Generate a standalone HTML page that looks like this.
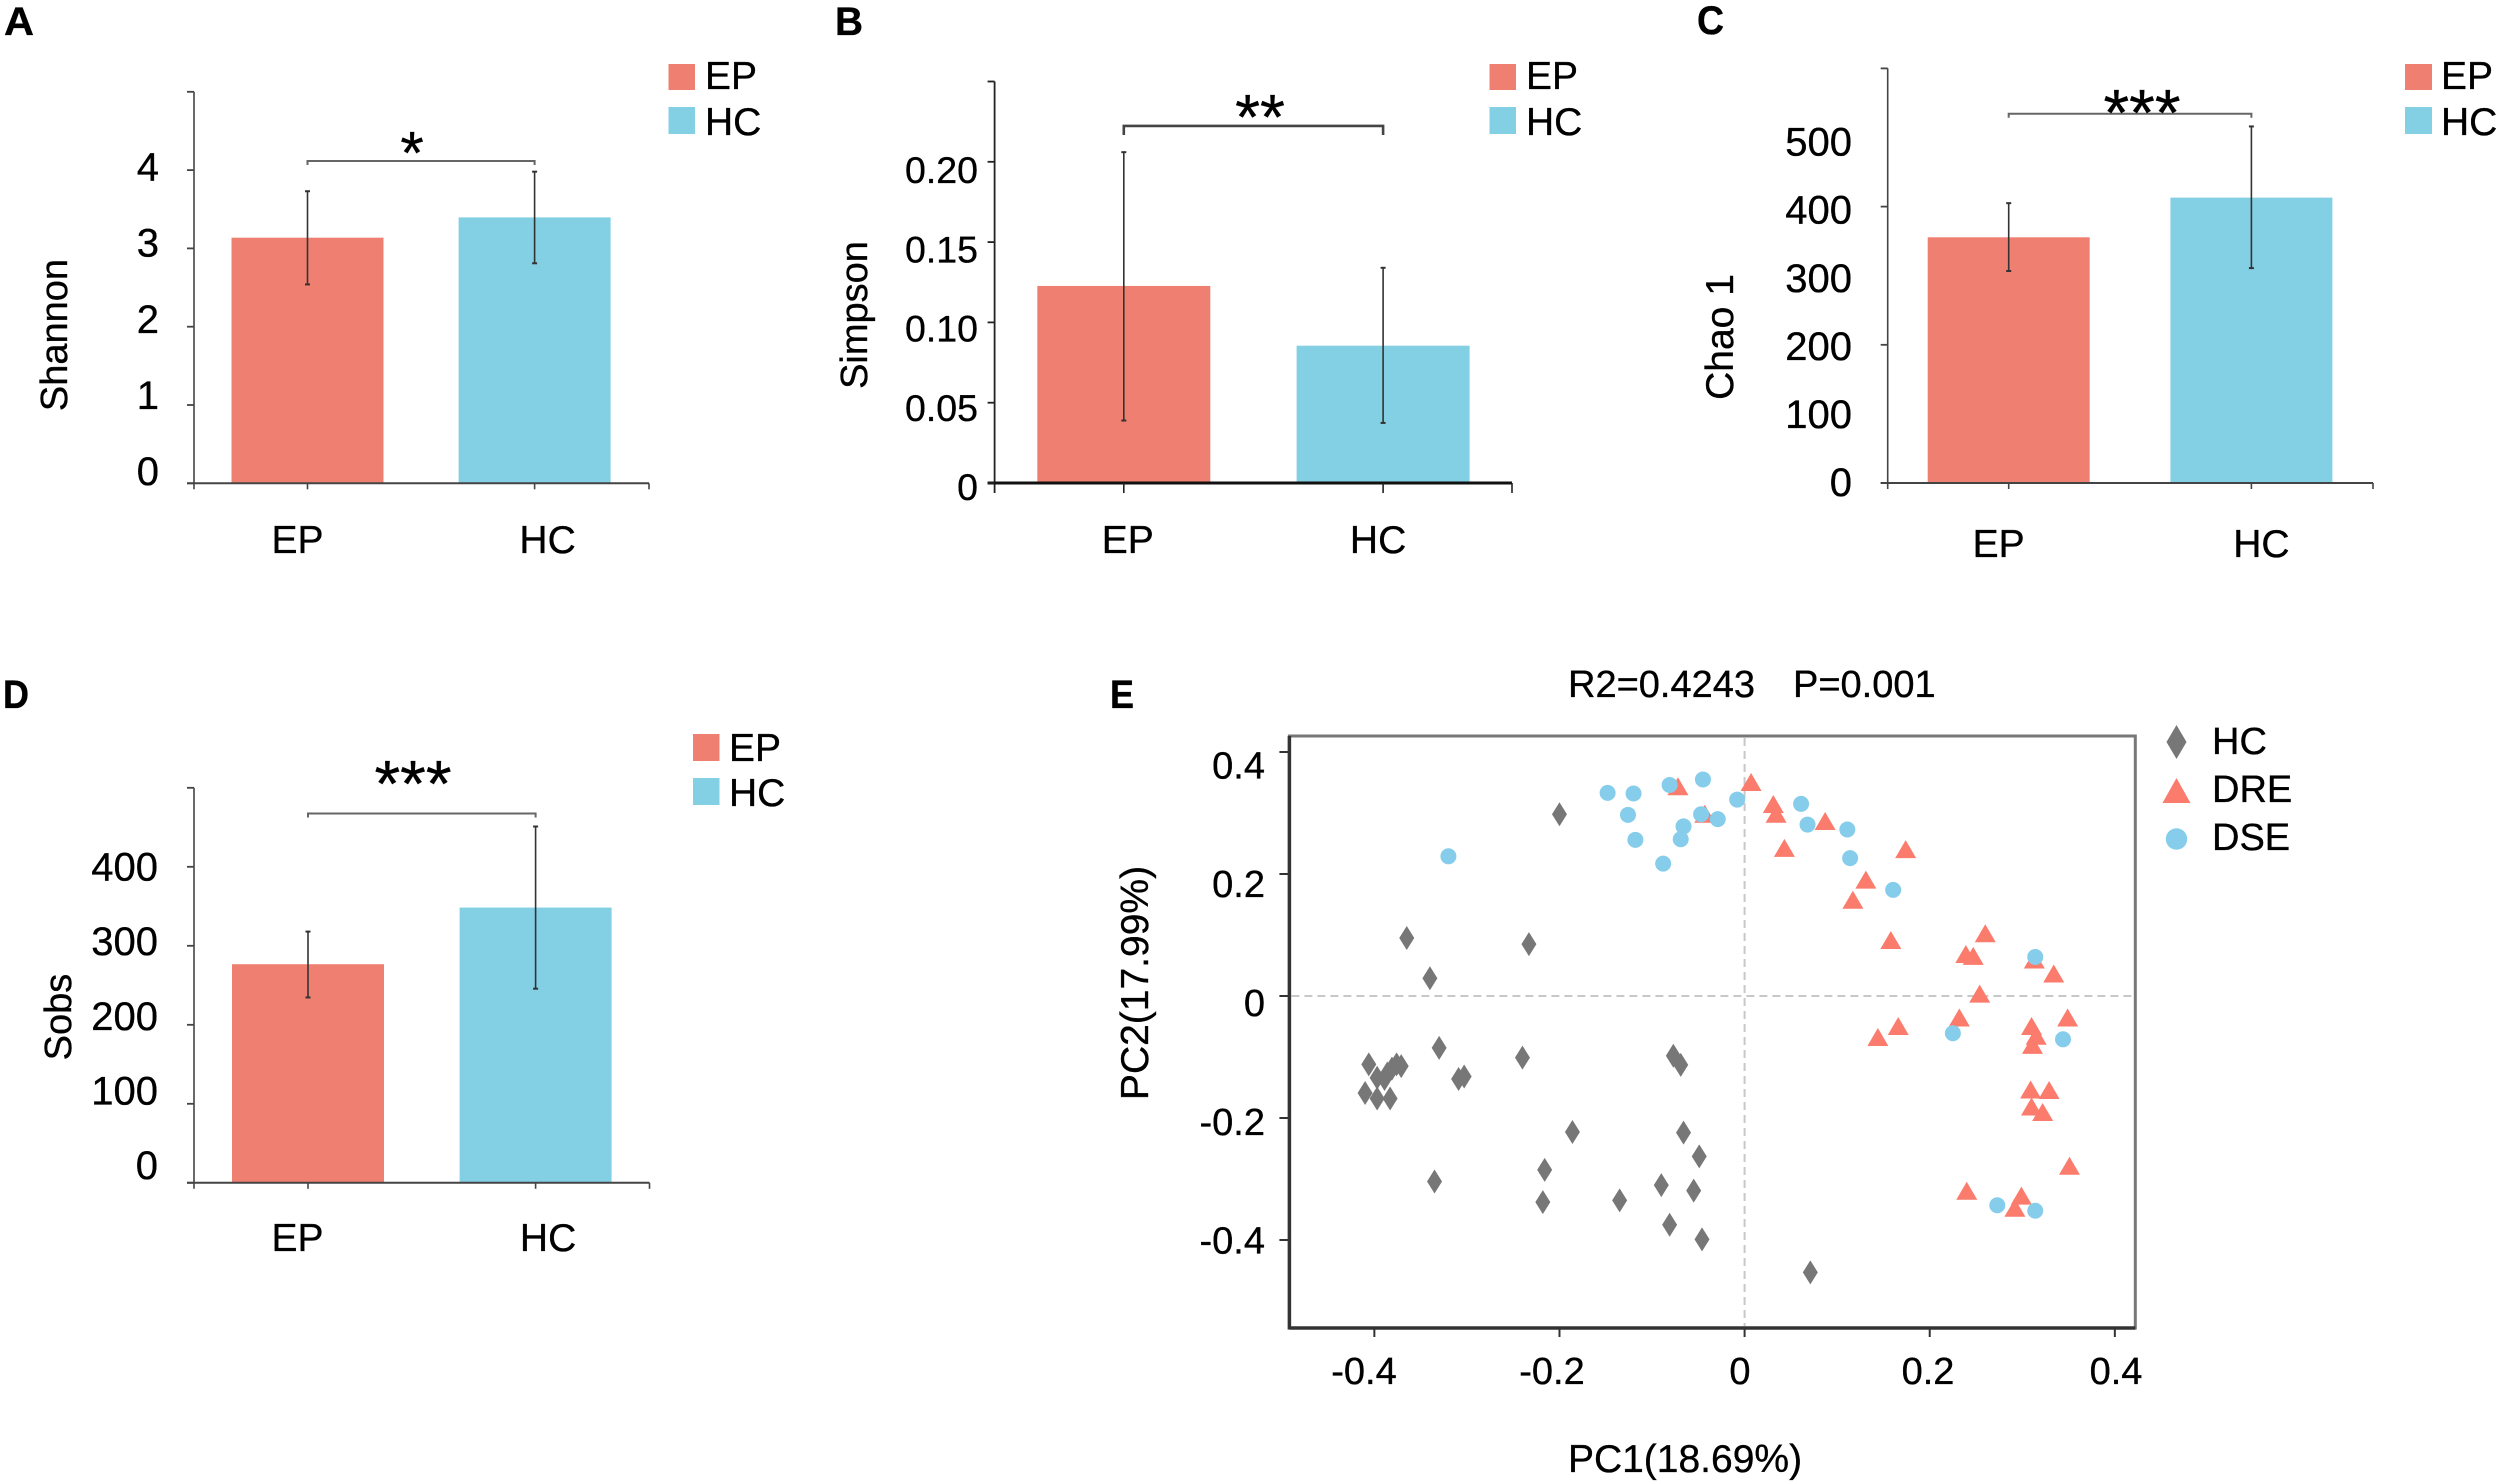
<!DOCTYPE html>
<html lang="en">
<head>
<meta charset="utf-8">
<title>Alpha diversity bars and PCoA</title>
<style>
html,body{margin:0;padding:0;background:#fff;}
svg{display:block;}
text{font-family:"Liberation Sans",sans-serif;fill:#000;stroke:#000;stroke-width:.35px;}
.t{font-size:38px;}
.t2{font-size:39px;}
.lg{font-size:39px;}
.pl{font-size:40px;font-weight:bold;}
</style>
</head>
<body>
<svg id="figure" width="2500" height="1483" viewBox="0 0 2500 1483" xmlns="http://www.w3.org/2000/svg">
  <rect x="0" y="0" width="2500" height="1483" fill="#fff"/>

  <text class="pl" x="4" y="35" textLength="30" lengthAdjust="spacingAndGlyphs">A</text>
  <text class="pl" x="835" y="35" textLength="28" lengthAdjust="spacingAndGlyphs">B</text>
  <text class="pl" x="1697" y="34" textLength="27" lengthAdjust="spacingAndGlyphs">C</text>
  <text class="pl" x="3" y="708" textLength="26" lengthAdjust="spacingAndGlyphs">D</text>
  <text class="pl" x="1110" y="708" textLength="24" lengthAdjust="spacingAndGlyphs">E</text>

  <g id="panel-a">
    <text class="t" transform="translate(67,335) rotate(-90)" text-anchor="middle">Shannon</text>
    <g>
      <rect x="668.5" y="64" width="26.5" height="26" fill="#EF8071"/>
      <rect x="668.5" y="107" width="26.5" height="27" fill="#83CFE4"/>
      <text class="lg" x="705" y="89">EP</text>
      <text class="lg" x="705" y="135">HC</text>
    </g>
  </g>

  <g id="panel-b">
    <text class="t" transform="translate(867,315) rotate(-90)" text-anchor="middle">Simpson</text>
    <g>
      <rect x="1489.5" y="64" width="26.5" height="26" fill="#EF8071"/>
      <rect x="1489.5" y="107" width="26.5" height="27" fill="#83CFE4"/>
      <text class="lg" x="1526" y="89">EP</text>
      <text class="lg" x="1526" y="135">HC</text>
    </g>
  </g>

  <g id="panel-c">
    <text class="t2" transform="translate(1733,337) rotate(-90)" text-anchor="middle">Chao 1</text>
    <g>
      <rect x="2405" y="64" width="27" height="26" fill="#EF8071"/>
      <rect x="2405" y="107" width="27" height="27" fill="#83CFE4"/>
      <text class="lg" x="2441" y="89">EP</text>
      <text class="lg" x="2441" y="135">HC</text>
    </g>
  </g>

  <g id="panel-d">
    <text class="t" transform="translate(71,1017) rotate(-90)" text-anchor="middle">Sobs</text>
    <g>
      <rect x="693" y="734" width="26.5" height="27" fill="#EF8071"/>
      <rect x="693" y="778" width="26.5" height="27" fill="#83CFE4"/>
      <text class="lg" x="729" y="761">EP</text>
      <text class="lg" x="729" y="806">HC</text>
    </g>
  </g>

  <g id="panel-e">
    <text class="t" x="1568" y="697">R2=0.4243</text>
    <text class="t" x="1793" y="697">P=0.001</text>
    <text class="t2" x="1685" y="1472" text-anchor="middle">PC1(18.69%)</text>
    <text class="t2" transform="translate(1148,983) rotate(-90)" text-anchor="middle">PC2(17.99%)</text>
    <g>
      <polygon points="2176.5,725 2186.5,742 2176.5,759 2166.5,742" fill="#777"/>
      <polygon points="2176.5,778 2190.5,803 2162.5,803" fill="#FB7B6D"/>
      <circle cx="2176.5" cy="839" r="10.7" fill="#85CDEB"/>
      <text class="t" x="2212" y="754">HC</text>
      <text class="t" x="2212" y="802">DRE</text>
      <text class="t" x="2212" y="850">DSE</text>
    </g>
  </g>
</svg>

<script>
// ---------- Bar chart data ----------
const barCategories = ['EP', 'HC'];

const shannonMeans = [3.137, 3.396];
const shannonLower = [2.54, 2.81];
const shannonUpper = [3.73, 3.98];
const shannonTickValues = [0, 1, 2, 3, 4, 5];
const shannonLabelValues = [0, 1, 2, 3, 4];
const shannonTickLabels = ['0', '1', '2', '3', '4'];
const shannonBracket = 4.116;
const shannonStars = '*';

const simpsonMeans = [0.1227, 0.0855];
const simpsonLower = [0.0389, 0.0374];
const simpsonUpper = [0.206, 0.134];
const simpsonTickValues = [0, 0.05, 0.10, 0.15, 0.20, 0.25];
const simpsonLabelValues = [0, 0.05, 0.10, 0.15, 0.20];
const simpsonTickLabels = ['0', '0.05', '0.10', '0.15', '0.20'];
const simpsonBracket = 0.2223;
const simpsonStars = '**';

const chaoMeans = [355.6, 413];
const chaoLower = [306.8, 311];
const chaoUpper = [405, 516];
const chaoTickValues = [0, 200, 400, 600];
const chaoLabelValues = [0, 100, 200, 300, 400, 500];
const chaoTickLabels = ['0', '100', '200', '300', '400', '500'];
const chaoBracket = 534.4;
const chaoStars = '***';

const sobsMeans = [276.7, 348.4];
const sobsLower = [234.6, 245.7];
const sobsUpper = [318, 451];
const sobsTickValues = [0, 100, 200, 300, 400, 500];
const sobsLabelValues = [0, 100, 200, 300, 400];
const sobsTickLabels = ['0', '100', '200', '300', '400'];
const sobsBracket = 467.5;
const sobsStars = '***';

// ---------- PCoA data (PC1, PC2) ----------
const hcPC1 = [-0.200,-0.365,-0.233,-0.340,-0.330,-0.240,-0.077,-0.069,-0.406,-0.376,-0.371,-0.381,-0.386,-0.397,-0.389,-0.309,-0.303,-0.410,-0.397,-0.383,-0.186,-0.066,-0.049,-0.216,-0.335,-0.090,-0.055,-0.218,-0.135,-0.081,-0.046,0.071];
const hcPC2 = [0.298,0.095,0.085,0.029,-0.085,-0.101,-0.098,-0.113,-0.112,-0.112,-0.115,-0.119,-0.127,-0.134,-0.136,-0.136,-0.132,-0.159,-0.168,-0.168,-0.223,-0.224,-0.263,-0.285,-0.304,-0.310,-0.319,-0.338,-0.335,-0.375,-0.399,-0.453];

const drePC1 = [-0.072,-0.043,0.007,0.031,0.034,0.043,0.087,0.174,0.131,0.117,0.158,0.260,0.239,0.247,0.313,0.334,0.254,0.232,0.166,0.144,0.349,0.310,0.315,0.311,0.309,0.329,0.310,0.322,0.351,0.240,0.299,0.292];
const drePC2 = [0.343,0.298,0.350,0.314,0.298,0.242,0.286,0.240,0.190,0.157,0.091,0.102,0.068,0.065,0.059,0.036,0.003,-0.036,-0.050,-0.068,-0.036,-0.050,-0.066,-0.081,-0.154,-0.155,-0.182,-0.191,-0.279,-0.320,-0.328,-0.348];

const dsePC1 = [-0.320,-0.148,-0.120,-0.126,-0.118,-0.088,-0.081,-0.045,-0.047,-0.066,-0.069,-0.029,-0.008,0.061,0.068,0.111,0.114,0.1605,0.314,0.225,0.344,0.273,0.314];
const dsePC2 = [0.229,0.333,0.332,0.297,0.256,0.217,0.346,0.355,0.298,0.278,0.257,0.290,0.322,0.315,0.281,0.273,0.226,0.174,0.064,-0.061,-0.071,-0.343,-0.352];

const pcoaTickValues = [-0.4, -0.2, 0, 0.2, 0.4];
const pcoaTickLabels = ['-0.4', '-0.2', '0', '0.2', '0.4'];

// ---------- Drawing helpers ----------
const SVGNS = 'http://www.w3.org/2000/svg';

function make(parent, tag) {
  const el = document.createElementNS(SVGNS, tag);
  parent.appendChild(el);
  return el;
}
function drawLine(parent, x1, y1, x2, y2, color, width) {
  const el = make(parent, 'line');
  el.setAttribute('x1', x1);
  el.setAttribute('y1', y1);
  el.setAttribute('x2', x2);
  el.setAttribute('y2', y2);
  el.setAttribute('stroke', color);
  el.setAttribute('stroke-width', width);
  return el;
}
function drawText(parent, x, y, str, size, anchor) {
  const el = make(parent, 'text');
  el.setAttribute('x', x);
  el.setAttribute('y', y);
  el.setAttribute('font-size', size);
  el.setAttribute('text-anchor', anchor);
  el.textContent = str;
  return el;
}

function drawBarPanel(groupId, d, g) {
  const root = document.getElementById(groupId);
  const y = v => g.y0 - v * g.pxPerUnit;
  const labelY = v => g.labelY0 - v * g.labelPxPerUnit;
  const colors = ['#EF8071', '#83CFE4'];

  d.means.forEach((m, i) => {
    const bar = make(root, 'rect');
    bar.setAttribute('x', g.catX[i] - g.barHalf);
    bar.setAttribute('y', y(m));
    bar.setAttribute('width', g.barHalf * 2);
    bar.setAttribute('height', g.y0 - y(m));
    bar.setAttribute('fill', colors[i]);
    
    
  });

  const yAxis = drawLine(root, g.x0, y(d.ticks[d.ticks.length - 1]), g.x0, g.y0 + g.xTick, g.yColor, g.yWidth);
  
  

  const xAxis = drawLine(root, g.x0 - 7, g.y0, g.x1, g.y0, g.xColor, g.xWidth);
  
  

  const xEnd = drawLine(root, g.x1, g.y0, g.x1, g.y0 + g.xTick, g.yColor, 1.6);
  
  

  d.ticks.forEach(v => {
    const t = drawLine(root, g.x0 - 7, y(v), g.x0, y(v), g.yColor, 1.8);
    
    
  });

  d.labelValues.forEach((v, i) => {
    const t = drawText(root, g.labelRight, labelY(v) + 14, d.tickLabels[i], g.labelSize, 'end');
    
    
  });

  d.categories.forEach((c, i) => {
    const t = drawLine(root, g.catX[i], g.y0, g.catX[i], g.y0 + g.xTick, g.yColor, 1.6);
    
    
    const lab = drawText(root, g.catX[i] + g.catLabelShift[i], g.catBaseline, c, 39, 'middle');
    
    
  });

  d.means.forEach((m, i) => {
    const cx = g.catX[i];
    const stem = drawLine(root, cx, y(d.upper[i]), cx, y(d.lower[i]), '#333', 1.6);
    
    
    const capA = drawLine(root, cx - 2.5, y(d.upper[i]), cx + 2.5, y(d.upper[i]), '#333', 2);
    
    
    const capB = drawLine(root, cx - 2.5, y(d.lower[i]), cx + 2.5, y(d.lower[i]), '#333', 2);
    
    
  });

  const by = y(d.bracket);
  const bracket = make(root, 'path');
  bracket.setAttribute('d', 'M' + g.catX[0] + ' ' + (by + g.bracketDrop) + 'V' + by + 'H' + g.catX[1] + 'V' + (by + g.bracketDrop));
  bracket.setAttribute('fill', 'none');
  bracket.setAttribute('stroke', g.bracketColor);
  bracket.setAttribute('stroke-width', g.bracketWidth);
  
  

  const stars = drawText(root, g.starX, by - g.starRise + 0.56 * g.starSize, d.stars, g.starSize, 'middle');
  stars.setAttribute('stroke-width', 1.5);
  
  
}

drawBarPanel('panel-a',
  { categories: barCategories, means: shannonMeans, lower: shannonLower, upper: shannonUpper,
    ticks: shannonTickValues, labelValues: shannonLabelValues, tickLabels: shannonTickLabels,
    bracket: shannonBracket, stars: shannonStars },
  { x0: 194, x1: 649, y0: 483.3, pxPerUnit: 78.3, labelY0: 471, labelPxPerUnit: 76.1, labelRight: 159, labelSize: 40,
    catX: [307.5, 534.6], barHalf: 76, catLabelShift: [-10, 13], catBaseline: 553, xTick: 6,
    yColor: '#444', yWidth: 1.6, xColor: '#444', xWidth: 2,
    bracketDrop: 4, bracketColor: '#666', bracketWidth: 2, starX: 412, starRise: 21, starSize: 60 });

drawBarPanel('panel-b',
  { categories: barCategories, means: simpsonMeans, lower: simpsonLower, upper: simpsonUpper,
    ticks: simpsonTickValues, labelValues: simpsonLabelValues, tickLabels: simpsonTickLabels,
    bracket: simpsonBracket, stars: simpsonStars },
  { x0: 994.6, x1: 1512, y0: 483, pxPerUnit: 1606, labelY0: 486, labelPxPerUnit: 1585, labelRight: 978, labelSize: 37.5,
    catX: [1123.8, 1383.1], barHalf: 86.5, catLabelShift: [4, -5], catBaseline: 553, xTick: 10,
    yColor: '#222', yWidth: 1.8, xColor: '#111', xWidth: 3,
    bracketDrop: 9, bracketColor: '#444', bracketWidth: 2.6, starX: 1260, starRise: 23, starSize: 64 });

drawBarPanel('panel-c',
  { categories: barCategories, means: chaoMeans, lower: chaoLower, upper: chaoUpper,
    ticks: chaoTickValues, labelValues: chaoLabelValues, tickLabels: chaoTickLabels,
    bracket: chaoBracket, stars: chaoStars },
  { x0: 1887.7, x1: 2373, y0: 483, pxPerUnit: 0.691, labelY0: 482, labelPxPerUnit: 0.6807, labelRight: 1852, labelSize: 40,
    catX: [2008.7, 2251.4], barHalf: 81, catLabelShift: [-10, 10], catBaseline: 557, xTick: 6,
    yColor: '#444', yWidth: 1.6, xColor: '#444', xWidth: 2,
    bracketDrop: 4, bracketColor: '#666', bracketWidth: 2, starX: 2142, starRise: 15, starSize: 66 });

drawBarPanel('panel-d',
  { categories: barCategories, means: sobsMeans, lower: sobsLower, upper: sobsUpper,
    ticks: sobsTickValues, labelValues: sobsLabelValues, tickLabels: sobsTickLabels,
    bracket: sobsBracket, stars: sobsStars },
  { x0: 194, x1: 649.5, y0: 1182.8, pxPerUnit: 0.79, labelY0: 1165, labelPxPerUnit: 0.746, labelRight: 158, labelSize: 40,
    catX: [308, 535.6], barHalf: 76, catLabelShift: [-10.5, 12.5], catBaseline: 1251, xTick: 6,
    yColor: '#444', yWidth: 1.6, xColor: '#444', xWidth: 2,
    bracketDrop: 4, bracketColor: '#666', bracketWidth: 2, starX: 413, starRise: 44, starSize: 66 });

// ---------- PCoA panel ----------
(function drawPcoa() {
  const root = document.getElementById('panel-e');
  const px = v => 1744.6 + v * 925.6;
  const py = v => 996 - v * 610;
  const frameL = 1289.4, frameR = 2135.3, frameT = 736, frameB = 1328;

  const frameBox = make(root, 'rect');
  frameBox.setAttribute('x', frameL);
  frameBox.setAttribute('y', frameT);
  frameBox.setAttribute('width', frameR - frameL);
  frameBox.setAttribute('height', frameB - frameT);
  frameBox.setAttribute('fill', '#fff');
  frameBox.setAttribute('stroke', '#777');
  frameBox.setAttribute('stroke-width', 3);
  
  

  const leftEdge = drawLine(root, frameL, frameT, frameL, frameB + 1.5, '#333', 3.5);
  
  

  const bottomEdge = drawLine(root, frameL, frameB, frameR, frameB, '#333', 3.5);
  
  

  const zeroH = drawLine(root, frameL + 2, py(0), frameR - 2, py(0), '#c8c8c8', 2);
  zeroH.setAttribute('stroke-dasharray', '8 5');
  
  

  const zeroV = drawLine(root, px(0), frameT + 2, px(0), frameB - 2, '#c8c8c8', 2);
  zeroV.setAttribute('stroke-dasharray', '8 5');
  
  

  pcoaTickValues.forEach((v, i) => {
    const tx = drawLine(root, px(v), frameB, px(v), frameB + 9, '#333', 2);
    
    
    const lx = drawText(root, 1740 + v * 940, 1384, pcoaTickLabels[i], 38, 'middle');
    
    
    const ty = drawLine(root, frameL - 10, py(v), frameL, py(v), '#333', 2);
    
    
    const ly = drawText(root, 1265, 1002 - v * 594 + 14, pcoaTickLabels[i], 38, 'end');
    
    
  });

  hcPC1.forEach((v, i) => {
    const cx = px(v), cy = py(hcPC2[i]);
    const el = make(root, 'polygon');
    el.setAttribute('points', cx + ',' + (cy - 12) + ' ' + (cx + 7.5) + ',' + cy + ' ' + cx + ',' + (cy + 12) + ' ' + (cx - 7.5) + ',' + cy);
    el.setAttribute('fill', '#777');
    
    
  });

  drePC1.forEach((v, i) => {
    const cx = px(v), cy = py(drePC2[i]);
    const el = make(root, 'polygon');
    el.setAttribute('points', cx + ',' + (cy - 9.5) + ' ' + (cx + 10.5) + ',' + (cy + 8.5) + ' ' + (cx - 10.5) + ',' + (cy + 8.5));
    el.setAttribute('fill', '#FB7B6D');
    
    
  });

  dsePC1.forEach((v, i) => {
    const el = make(root, 'circle');
    el.setAttribute('cx', px(v));
    el.setAttribute('cy', py(dsePC2[i]));
    el.setAttribute('r', 8);
    el.setAttribute('fill', '#85CDEB');
    
    
  });
})();
</script>
</body>
</html>
